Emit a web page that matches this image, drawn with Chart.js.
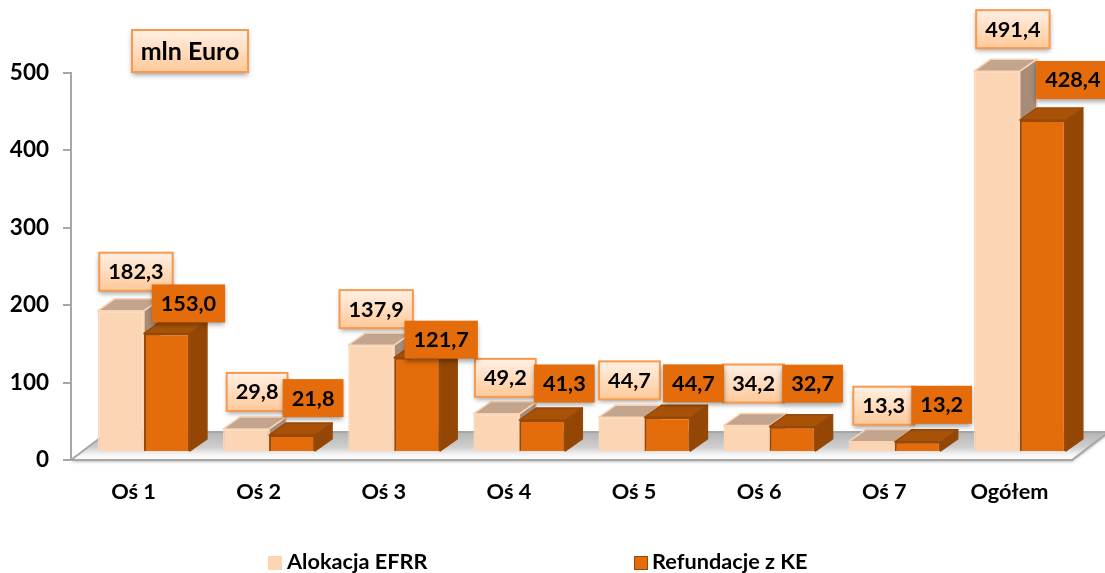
<!DOCTYPE html>
<html>
<head>
<meta charset="utf-8">
<style>html,body{margin:0;padding:0;background:#fff;overflow:hidden}canvas{display:block}</style>
<script src="https://cdn.jsdelivr.net/npm/chart.js@4/dist/chart.umd.min.js"></script>
</head>
<body>
<canvas id="c" width="1105" height="573"></canvas>
<script>
const categories = ["Oś 1","Oś 2","Oś 3","Oś 4","Oś 5","Oś 6","Oś 7","Ogółem"];
const alokacja = [182.3,29.8,137.9,49.2,44.7,34.2,13.3,491.4];
const refundacje = [153.0,21.8,121.7,41.3,44.7,32.7,13.2,428.4];
const yTicks = [0,100,200,300,400,500];
const unitLabel = "mln Euro";
const seriesNames = ["Alokacja EFRR","Refundacje z KE"];

// label-box nudges (pixels from the top centre of each bar front)
const nudgeAx = [15,11,5,9,8,7,12,16];
const nudgeAy = [-39,-37,-36,-36,-37,-42,-36,-42];
const nudgeBx = [21.5,21,24,22,26,20,24,30];
const nudgeBy = [-30,-37,-18,-36.5,-34,-43,-37,-40];

const FONT = 'Lato, "Open Sans", sans-serif';
const PLANE = {x:10.4, y:-8};   // bars stand behind the axis plane
const DEPTH = {x:17, y:-12};    // extrusion of each bar
const PALE = '#FCD5B5', ORANGE = '#E46C0A', DARK = '#984807';
const faces = [
  {side:'#A78C78', top:'#C3A58E', edge:'#FBD3B3'},
  {side:'#944705', top:'#A85208', edge:'#984807'}
];
const fmt = v => v.toFixed(1).replace('.', ',');

function poly(ctx, pts){
  ctx.beginPath();
  pts.forEach((p,i)=> i ? ctx.lineTo(p[0],p[1]) : ctx.moveTo(p[0],p[1]));
  ctx.closePath();
}

function labelBox(ctx, cx, cy, w, h, text, kind){
  const x = cx-w/2, y = cy-h/2;
  ctx.save();
  ctx.shadowColor = 'rgba(0,0,0,0.38)';
  ctx.shadowBlur = 5;
  ctx.shadowOffsetY = 3;
  if(kind === 0){
    const g = ctx.createLinearGradient(0,y,0,y+h);
    g.addColorStop(0,'#FFF0E4');
    g.addColorStop(1,'#FFC999');
    ctx.fillStyle = g;
  } else {
    ctx.fillStyle = ORANGE;
  }
  ctx.fillRect(x,y,w,h);
  ctx.restore();
  if(kind === 0){
    ctx.strokeStyle = '#F79A50';
    ctx.lineWidth = 2;
    ctx.strokeRect(x,y,w,h);
  }
  ctx.fillStyle = '#000';
  ctx.textAlign = 'center';
  ctx.textBaseline = 'middle';
  ctx.fillText(text,cx,cy+0.5);
}

const scene = {
  id:'scene',
  beforeDraw(chart){
    const {ctx, chartArea:a} = chart;
    const yb = chart.scales.y.getPixelForValue(0);
    const dx = 37, dy = -28;
    ctx.save();
    const g = ctx.createLinearGradient(0,yb+dy,0,yb);
    g.addColorStop(0,'#B4B4B4');
    g.addColorStop(0.55,'#CFCFCF');
    g.addColorStop(0.8,'#F4F4F4');
    g.addColorStop(1,'#FFFFFF');
    ctx.save();
    ctx.shadowColor='rgba(0,0,0,0.25)'; ctx.shadowBlur=3; ctx.shadowOffsetY=2;
    ctx.fillStyle = g;
    poly(ctx,[[a.left,yb],[a.right,yb],[a.right+dx,yb+dy],[a.left+dx,yb+dy]]);
    ctx.fill();
    ctx.restore();
    ctx.strokeStyle = '#A6A6A6';
    ctx.lineWidth = 2;
    ctx.beginPath();
    ctx.moveTo(a.left,yb); ctx.lineTo(a.left+dx,yb+dy); ctx.lineTo(a.right+dx,yb+dy);
    ctx.moveTo(a.right,yb); ctx.lineTo(a.right+dx,yb+dy);
    ctx.stroke();
    ctx.restore();
  },
  beforeDatasetsDraw(chart){
    const ctx = chart.ctx;
    [0,1].forEach(i=>{
      const meta = chart.getDatasetMeta(i), f = faces[i];
      ctx.save();
      ctx.translate(PLANE.x, PLANE.y);
      meta.data.forEach(el=>{
        const l = el.x-el.width/2, r = el.x+el.width/2, t = el.y, b = el.base;
        ctx.lineWidth = 1.5;
        ctx.lineJoin = 'round';
        ctx.strokeStyle = f.edge;
        ctx.fillStyle = f.side;
        poly(ctx,[[r,t],[r+DEPTH.x,t+DEPTH.y],[r+DEPTH.x,b+DEPTH.y],[r,b]]);
        ctx.fill(); ctx.stroke();
        ctx.fillStyle = f.top;
        poly(ctx,[[l,t],[l+DEPTH.x,t+DEPTH.y],[r+DEPTH.x,t+DEPTH.y],[r,t]]);
        ctx.fill(); ctx.stroke();
      });
      meta.controller.draw();
      ctx.restore();
    });
    return false;
  },
  afterDraw(chart){
    const ctx = chart.ctx;
    ctx.save();
    ctx.font = 'bold 21.7px '+FONT;
    [[alokacja,nudgeAx,nudgeAy],[refundacje,nudgeBx,nudgeBy]].forEach((set,s)=>{
      const meta = chart.getDatasetMeta(s);
      meta.data.forEach((el,i)=>{
        const txt = fmt(set[0][i]);
        const w = ctx.measureText(txt).width + 18;
        labelBox(ctx, el.x+PLANE.x+set[1][i], el.y+PLANE.y+set[2][i], w, 38, txt, s);
      });
    });
    // unit box
    ctx.font = 'bold 25px '+FONT;
    labelBox(ctx,190,51,116,42,unitLabel,0);
    // legend
    ctx.font = 'bold 21.7px '+FONT;
    ctx.textAlign='left'; ctx.textBaseline='middle';
    [[268,287,PALE],[634,652,ORANGE]].forEach((l,i)=>{
      ctx.fillStyle = l[2];
      ctx.fillRect(l[0],556,14,14);
      if(i===1){ctx.strokeStyle=DARK;ctx.lineWidth=1;ctx.strokeRect(l[0]+.5,556.5,13,13);}
      ctx.fillStyle='#000';
      ctx.fillText(seriesNames[i],l[1],562);
    });
    ctx.restore();
  }
};

new Chart(document.getElementById('c'),{
  type:'bar',
  plugins:[scene],
  data:{
    labels:categories,
    datasets:[
      {label:seriesNames[0],data:alokacja,backgroundColor:PALE,borderColor:PALE,borderWidth:1.5,clip:false},
      {label:seriesNames[1],data:refundacje,backgroundColor:ORANGE,borderColor:DARK,borderWidth:2,clip:false}
    ]
  },
  options:{
    responsive:false,
    animation:false,
    events:[],
    layout:{autoPadding:false,padding:{top:72.5,right:33,left:0,bottom:0}},
    categoryPercentage:0.735,
    barPercentage:1,
    plugins:{legend:{display:false},tooltip:{enabled:false},title:{display:false}},
    scales:{
      x:{
        afterFit(s){s.height=113;},
        grid:{display:true,drawOnChartArea:false,drawTicks:false,color:'#A6A6A6'},
        border:{display:true,color:'#A6A6A6',width:2},
        ticks:{color:'#000',font:{family:FONT,size:21.7,weight:'bold'},padding:19,maxRotation:0,autoSkip:false}
      },
      y:{
        min:0,max:500,
        afterFit(s){s.width=71;},
        afterBuildTicks(s){s.ticks=yTicks.map(v=>({value:v}));},
        grid:{display:true,drawOnChartArea:false,drawTicks:true,tickLength:8,color:'#A6A6A6',lineWidth:2},
        border:{display:true,color:'#A6A6A6',width:2},
        ticks:{color:'#000',font:{family:FONT,size:22.5,weight:'bold'},padding:14}
      }
    }
  }
});
</script>
</body>
</html>
